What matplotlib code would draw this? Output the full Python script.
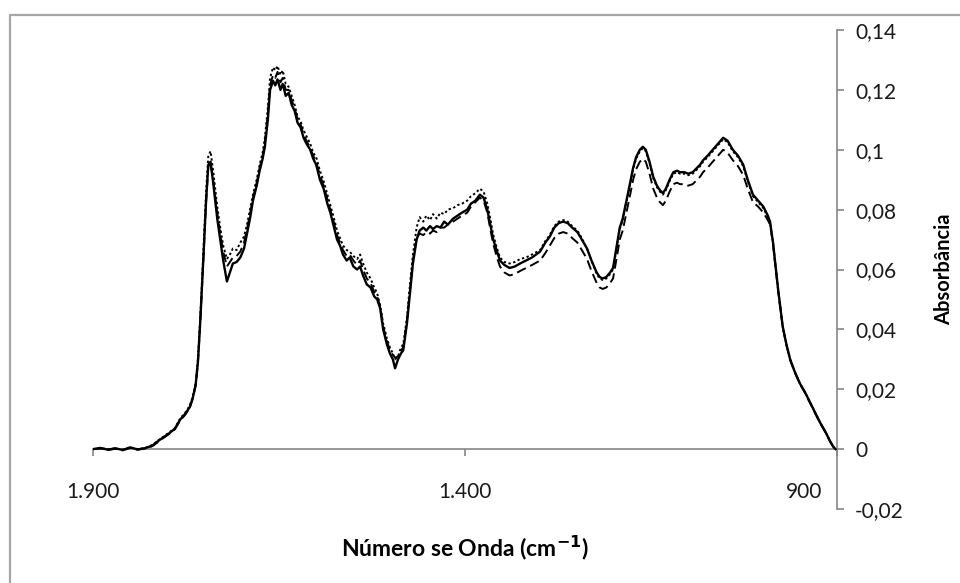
import matplotlib
matplotlib.use("Agg")
import matplotlib.pyplot as plt
import matplotlib.transforms as mtransforms
from matplotlib.lines import Line2D

# ---------------- data ----------------
wavenumber = [
    1900, 1890, 1880, 1870, 1860, 1850, 1840, 1830, 1820, 1812,
    1805, 1798, 1790, 1783, 1776, 1770, 1766, 1762, 1759, 1756,
    1752, 1748, 1745, 1742, 1738, 1733, 1729, 1725, 1720, 1716,
    1712, 1707, 1702, 1697, 1693, 1689, 1685, 1680, 1676, 1672,
    1669, 1665, 1662, 1658, 1655, 1652, 1648, 1645, 1641, 1637,
    1633, 1629, 1625, 1621, 1617, 1613, 1608, 1604, 1600, 1595,
    1590, 1585, 1581, 1576, 1572, 1568, 1564, 1559, 1555, 1550,
    1545, 1541, 1537, 1532, 1527, 1522, 1518, 1514, 1510, 1505,
    1501, 1497, 1494, 1490, 1486, 1483, 1478, 1474, 1470, 1465,
    1461, 1456, 1452, 1447, 1443, 1438, 1433, 1428, 1423, 1416,
    1410, 1404, 1397, 1392, 1386, 1380, 1375, 1370, 1366, 1362,
    1357, 1353, 1347, 1340, 1333, 1326, 1318, 1310, 1299, 1292,
    1286, 1280, 1274, 1268, 1262, 1256, 1249, 1243, 1236, 1230,
    1223, 1219, 1215, 1210, 1205, 1201, 1196, 1192, 1188, 1183,
    1178, 1174, 1170, 1165, 1161, 1157, 1152, 1147, 1142, 1138,
    1134, 1130, 1125, 1120, 1115, 1111, 1105, 1100, 1094, 1088,
    1084, 1080, 1074, 1067, 1060, 1053, 1047, 1040, 1033, 1026,
    1020, 1013, 1006, 999, 993, 990, 986, 983, 979, 976,
    973, 968, 963, 957, 950, 943, 936, 930, 923, 916,
    909, 905, 902,
]

absorb_solid = [
    0.0, 0.0004, -0.0002, 0.0003, -0.0003, 0.0006, -0.0001, 0.0003, 0.0012, 0.0028,
    0.0040, 0.0052, 0.0068, 0.0098, 0.0118, 0.0140, 0.0170, 0.0215, 0.0290, 0.0420,
    0.0620, 0.0830, 0.0950, 0.0960, 0.0880, 0.0770, 0.0700, 0.0630, 0.0560, 0.0590,
    0.0620, 0.0625, 0.0640, 0.0670, 0.0720, 0.0770, 0.0830, 0.0880, 0.0930, 0.0970,
    0.1010, 0.1100, 0.1200, 0.1230, 0.1215, 0.1235, 0.1200, 0.1220, 0.1180, 0.1190,
    0.1150, 0.1130, 0.1090, 0.1075, 0.1040, 0.1020, 0.1000, 0.0970, 0.0950, 0.0900,
    0.0870, 0.0820, 0.0790, 0.0740, 0.0700, 0.0680, 0.0650, 0.0630, 0.0640, 0.0610,
    0.0600, 0.0610, 0.0580, 0.0550, 0.0540, 0.0510, 0.0500, 0.0470, 0.0400, 0.0350,
    0.0320, 0.0300, 0.0270, 0.0300, 0.0320, 0.0330, 0.0420, 0.0520, 0.0620, 0.0700,
    0.0730, 0.0740, 0.0730, 0.0745, 0.0735, 0.0745, 0.0740, 0.0760, 0.0750, 0.0770,
    0.0780, 0.0790, 0.0800, 0.0820, 0.0830, 0.0850, 0.0840, 0.0800, 0.0750, 0.0700,
    0.0660, 0.0630, 0.0615, 0.0605, 0.0610, 0.0620, 0.0630, 0.0640, 0.0660, 0.0690,
    0.0710, 0.0740, 0.0755, 0.0760, 0.0755, 0.0740, 0.0725, 0.0700, 0.0670, 0.0630,
    0.0590, 0.0575, 0.0570, 0.0575, 0.0590, 0.0605, 0.0680, 0.0740, 0.0770, 0.0830,
    0.0890, 0.0940, 0.0975, 0.1000, 0.1010, 0.1000, 0.0960, 0.0910, 0.0880, 0.0865,
    0.0855, 0.0870, 0.0900, 0.0925, 0.0930, 0.0925, 0.0925, 0.0920, 0.0925, 0.0940,
    0.0950, 0.0965, 0.0980, 0.1000, 0.1020, 0.1040, 0.1030, 0.1000, 0.0980, 0.0950,
    0.0900, 0.0850, 0.0830, 0.0810, 0.0780, 0.0760, 0.0690, 0.0620, 0.0530, 0.0470,
    0.0410, 0.0350, 0.0300, 0.0260, 0.0220, 0.0190, 0.0155, 0.0125, 0.0090, 0.0060,
    0.0025, 0.0008, 0.0,
]

absorb_dotted = [
    0.0, 0.0003, 0.0000, 0.0002, -0.0002, 0.0005, 0.0000, 0.0004, 0.0014, 0.0030,
    0.0042, 0.0055, 0.0070, 0.0102, 0.0122, 0.0145, 0.0175, 0.0220, 0.0300, 0.0430,
    0.0640, 0.0860, 0.0980, 0.0995, 0.0920, 0.0810, 0.0740, 0.0680, 0.0635, 0.0650,
    0.0670, 0.0665, 0.0690, 0.0710, 0.0750, 0.0800, 0.0850, 0.0900, 0.0950, 0.0990,
    0.1040, 0.1140, 0.1240, 0.1275, 0.1265, 0.1280, 0.1250, 0.1265, 0.1220, 0.1210,
    0.1180, 0.1150, 0.1110, 0.1095, 0.1065, 0.1045, 0.1020, 0.0990, 0.0975, 0.0930,
    0.0895, 0.0850, 0.0815, 0.0770, 0.0730, 0.0705, 0.0680, 0.0665, 0.0660, 0.0645,
    0.0635, 0.0650, 0.0620, 0.0590, 0.0570, 0.0540, 0.0520, 0.0480, 0.0420, 0.0370,
    0.0340, 0.0320, 0.0300, 0.0310, 0.0340, 0.0350, 0.0440, 0.0550, 0.0650, 0.0740,
    0.0775, 0.0760, 0.0780, 0.0765, 0.0785, 0.0770, 0.0790, 0.0785, 0.0800, 0.0805,
    0.0815, 0.0820, 0.0830, 0.0845, 0.0855, 0.0870, 0.0860, 0.0820, 0.0770, 0.0715,
    0.0670, 0.0640, 0.0625, 0.0620, 0.0625, 0.0635, 0.0640, 0.0650, 0.0665, 0.0695,
    0.0715, 0.0745, 0.0760, 0.0765, 0.0760, 0.0745, 0.0730, 0.0705, 0.0670, 0.0630,
    0.0585, 0.0570, 0.0565, 0.0570, 0.0585, 0.0600, 0.0675, 0.0735, 0.0765, 0.0825,
    0.0885, 0.0935, 0.0970, 0.0995, 0.1005, 0.0995, 0.0955, 0.0905, 0.0875, 0.0860,
    0.0850, 0.0865, 0.0895, 0.0920, 0.0925, 0.0920, 0.0920, 0.0915, 0.0920, 0.0935,
    0.0945, 0.0960, 0.0975, 0.0995, 0.1015, 0.1035, 0.1025, 0.0995, 0.0975, 0.0945,
    0.0895, 0.0845, 0.0825, 0.0805, 0.0775, 0.0755, 0.0690, 0.0620, 0.0530, 0.0470,
    0.0410, 0.0350, 0.0300, 0.0260, 0.0220, 0.0190, 0.0155, 0.0125, 0.0090, 0.0060,
    0.0025, 0.0008, 0.0,
]

absorb_dashed = [
    0.0, 0.0002, -0.0003, 0.0001, -0.0004, 0.0004, -0.0002, 0.0002, 0.0010, 0.0025,
    0.0038, 0.0050, 0.0066, 0.0095, 0.0115, 0.0138, 0.0168, 0.0212, 0.0288, 0.0415,
    0.0615, 0.0825, 0.0945, 0.0955, 0.0890, 0.0790, 0.0720, 0.0660, 0.0610, 0.0625,
    0.0640, 0.0645, 0.0660, 0.0690, 0.0735, 0.0785, 0.0840, 0.0890, 0.0940, 0.0980,
    0.1025, 0.1120, 0.1215, 0.1250, 0.1240, 0.1260, 0.1225, 0.1240, 0.1200, 0.1200,
    0.1165, 0.1140, 0.1100, 0.1085, 0.1050, 0.1030, 0.1005, 0.0980, 0.0960, 0.0915,
    0.0880, 0.0835, 0.0800, 0.0755, 0.0715, 0.0690, 0.0665, 0.0645, 0.0650, 0.0630,
    0.0615, 0.0630, 0.0600, 0.0570, 0.0555, 0.0525, 0.0510, 0.0475, 0.0410, 0.0360,
    0.0330, 0.0315, 0.0305, 0.0310, 0.0330, 0.0340, 0.0430, 0.0530, 0.0630, 0.0705,
    0.0720, 0.0715, 0.0725, 0.0720, 0.0730, 0.0725, 0.0740, 0.0740, 0.0750, 0.0760,
    0.0770, 0.0780, 0.0790, 0.0810, 0.0825, 0.0840, 0.0830, 0.0790, 0.0735, 0.0685,
    0.0640, 0.0610, 0.0590, 0.0580, 0.0585, 0.0595, 0.0605, 0.0615, 0.0630, 0.0655,
    0.0680, 0.0705, 0.0720, 0.0725, 0.0720, 0.0705, 0.0690, 0.0665, 0.0635, 0.0595,
    0.0555, 0.0540, 0.0535, 0.0540, 0.0555, 0.0570, 0.0640, 0.0700, 0.0730, 0.0790,
    0.0850, 0.0900, 0.0935, 0.0960, 0.0970, 0.0960, 0.0920, 0.0870, 0.0840, 0.0825,
    0.0815, 0.0830, 0.0860, 0.0885, 0.0890, 0.0885, 0.0885, 0.0880, 0.0885, 0.0900,
    0.0910, 0.0925, 0.0940, 0.0960, 0.0980, 0.1000, 0.0990, 0.0965, 0.0945, 0.0915,
    0.0870, 0.0825, 0.0810, 0.0790, 0.0765, 0.0750, 0.0685, 0.0615, 0.0528, 0.0468,
    0.0408, 0.0348, 0.0298, 0.0258, 0.0218, 0.0188, 0.0153, 0.0123, 0.0088, 0.0058,
    0.0024, 0.0008, 0.0,
]

x_ticks = [1900, 1400, 900]
x_tick_labels = ["1.900", "1.400", "900"]
y_ticks = [-0.02, 0.0, 0.02, 0.04, 0.06, 0.08, 0.10, 0.12, 0.14]
y_tick_labels = ["-0,02", "0", "0,02", "0,04", "0,06", "0,08", "0,1", "0,12", "0,14"]

# ---------------- figure ----------------
plt.rcParams['font.family'] = ['Lato', 'DejaVu Sans']
W, H = 960, 583
fig = plt.figure(figsize=(W / 100, H / 100), dpi=100)
fig.patch.set_facecolor('white')

left, right, top, bottom = 93, 837, 30, 509
ax = fig.add_axes([left / W, 1 - bottom / H, (right - left) / W, (bottom - top) / H])

ax.plot(wavenumber, absorb_solid, color='black', lw=1.7, ls='-', zorder=3)
ax.plot(wavenumber, absorb_dotted, color='black', lw=1.4, ls=(0, (1.2, 1.3)), zorder=3)
ax.plot(wavenumber, absorb_dashed, color='black', lw=1.4, ls=(0, (5, 2.5)), zorder=3)

ax.set_xlim(1900, 900)
ax.set_ylim(-0.02, 0.14)

grey = '#868686'
for s in ('left', 'top'):
    ax.spines[s].set_visible(False)
ax.spines['bottom'].set_position(('data', 0))
ax.spines['bottom'].set_color(grey)
ax.spines['bottom'].set_linewidth(1.2)
ax.spines['right'].set_color(grey)
ax.spines['right'].set_linewidth(1.2)

ax.yaxis.tick_right()
ax.yaxis.set_label_position('right')
ax.set_yticks(y_ticks)
ax.set_yticklabels(y_tick_labels)
ax.tick_params(axis='y', direction='out', length=5, width=1.2, color=grey,
               pad=8, labelsize=15, labelcolor='#1a1a1a')

ax.set_xticks(x_ticks)
ax.set_xticklabels(x_tick_labels)
ax.tick_params(axis='x', direction='out', length=5, width=1.2, color=grey,
               pad=19, labelsize=15, labelcolor='#1a1a1a')
lab900 = ax.get_xticklabels()[2]
lab900.set_transform(lab900.get_transform() +
                     mtransforms.ScaledTranslation(-0.33, 0, fig.dpi_scale_trans))

ax.set_xlabel('Número se Onda (cm$^{\\mathbf{-1}}$)', fontsize=16.5, fontweight='bold')
ax.xaxis.label.set_va('center')
ax.xaxis.set_label_coords(0.5, (bottom - 548) / (bottom - top))

ax.set_ylabel('Absorbância', fontsize=14.5, fontweight='bold', rotation=90)
ax.yaxis.label.set_va('center')
ax.yaxis.set_label_coords((944 - left) / (right - left), 0.5)

# outer chart border (grey frame)
bx = 9.5 / W
by = 1 - 14.5 / H
fig.add_artist(Line2D([bx, bx, 1.01], [-0.01, by, by], transform=fig.transFigure,
                      color='#a6a6a6', lw=1.6))

fig.savefig('out.png', dpi=100)
